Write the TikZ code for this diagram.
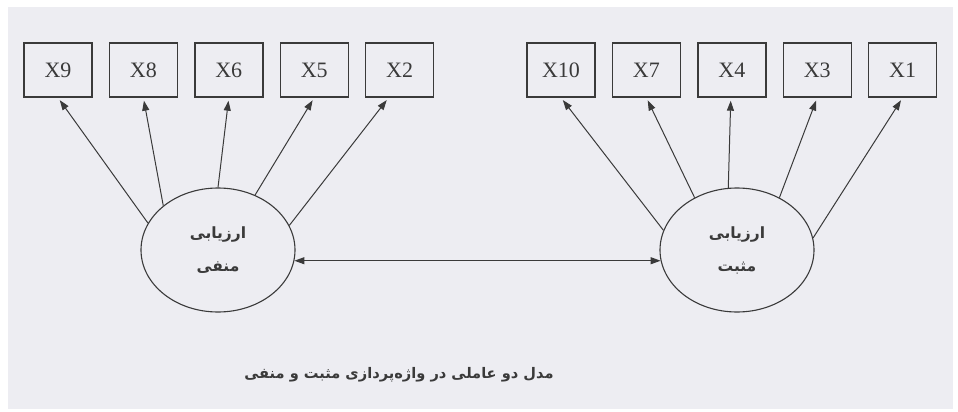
\documentclass[tikz,border=0pt]{standalone}
\usepackage{fontspec}
\setmainfont{Liberation Serif}
\newfontfamily\arabicfont[Script=Arabic]{DejaVu Sans}
\TeXXeTstate=1
\usetikzlibrary{shapes.geometric,positioning,arrows.meta}
\definecolor{paper}{RGB}{237,237,242}
\definecolor{ink}{RGB}{58,58,58}
\tikzstyle{indicator} = [rectangle, draw=ink, line width=1.4pt, text centered, minimum width=68pt, minimum height=54pt, inner sep=0pt, text=ink, font=\fontsize{22}{24}\selectfont]
\tikzstyle{factor} = [ellipse, draw=ink, line width=1.1pt, minimum width=154pt, minimum height=124pt, inner sep=0pt, align=center, text=ink, font=\arabicfont\bfseries\fontsize{15.5}{33}\selectfont]
\tikzstyle{connector} = [line width=1pt, draw=ink, -{Triangle[length=10pt,width=7pt]}, shorten >=3pt]
\tikzstyle{covariance} = [line width=1pt, draw=ink, {Triangle[length=10pt,width=7pt]}-{Triangle[length=10pt,width=7pt]}]

\begin{document}
\begin{tikzpicture}[x=1pt, y=-1pt, node distance=16pt]
            \fill[white] (0,0) rectangle (958,412);
            \fill[paper] (8,7) rectangle (953,409);
            \useasboundingbox (0,0) rectangle (958,412);
            % negative factor and its indicators
            \node (x9) [indicator] at (58,70) {X9};
            \node (x8) [indicator, right=of x9] {X8};
            \node (x6) [indicator, right=of x8] {X6};
            \node (x5) [indicator, right=of x6] {X5};
            \node (x2) [indicator, right=of x5] {X2};
            \node (neg) [factor] at (218,250) {\beginR ارزیابی\endR\\\beginR منفی\endR};
            % positive factor and its indicators
            \node (x10) [indicator] at (561,70) {X10};
            \node (x7) [indicator, right=of x10] {X7};
            \node (x4) [indicator, right=of x7] {X4};
            \node (x3) [indicator, right=of x4] {X3};
            \node (x1) [indicator, right=of x3] {X1};
            \node (pos) [factor] at (737,250) {\beginR ارزیابی\endR\\\beginR مثبت\endR};
            \node (caption) [text=ink, font=\arabicfont\bfseries\fontsize{14.6}{18}\selectfont] at (399,375) {\beginR مدل دو عاملی در واژه‌پردازی مثبت و منفی\endR};
            \draw [connector] (neg.159) -- (x9.south);
            \draw [connector] (neg.141) -- (x8.south);
            \draw [connector] (neg.90) -- (x6.south);
            \draw [connector] (neg.56) -- (x5.south);
            \draw [connector] (neg.19) -- ([xshift=-11pt]x2.south);
            \draw [connector] (pos.165) -- (x10.south);
            \draw [connector] (pos.129) -- (x7.south);
            \draw [connector] (pos.98) -- ([xshift=-1pt]x4.south);
            \draw [connector] (pos.51) -- (x3.south);
            \draw [connector] (pos.9) -- (x1.south);
            \draw [covariance] (neg.-8) -- (pos.188);
        \end{tikzpicture}
\end{document}
